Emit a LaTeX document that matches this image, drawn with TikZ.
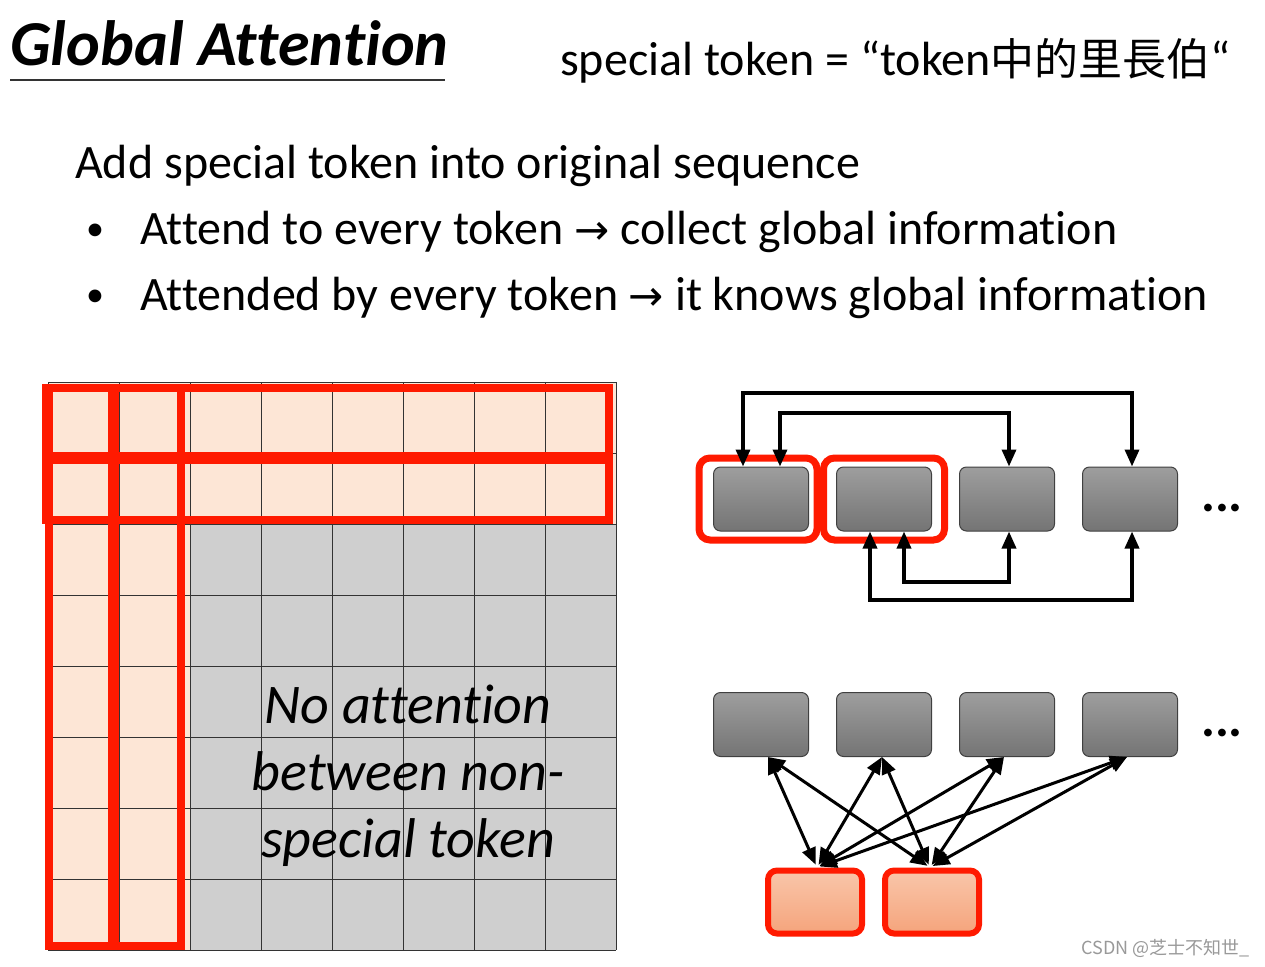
\documentclass[tikz,border=0pt]{standalone}
\usepackage{fontspec}
\setmainfont{Carlito}[Ligatures=NoCommon]
\newfontfamily\cjkfont{Noto Sans CJK TC}
\newfontfamily\wmfont{Noto Sans CJK SC}
\newfontfamily\arrowfont{DejaVu Sans}
\newcommand{\toarrow}{{\arrowfont\fontsize{42}{48}\selectfont →}}
\usetikzlibrary{positioning,arrows.meta,calc}
\definecolor{hlRed}{HTML}{FF1A00}
\definecolor{cellPink}{HTML}{FDE6D6}
\definecolor{cellGray}{HTML}{CFCFCF}
\definecolor{tokTop}{HTML}{9E9E9E}
\definecolor{tokBot}{HTML}{747474}
\definecolor{spTop}{HTML}{F9C6AA}
\definecolor{spBot}{HTML}{F5A47C}
\tikzset{
  tokbox/.style={draw=black!75, line width=1pt, rounded corners=7pt,
    minimum width=95pt, minimum height=64pt, top color=tokTop, bottom color=tokBot},
  spbox/.style={draw=hlRed, line width=6pt, rounded corners=9pt,
    minimum width=94pt, minimum height=63pt, top color=spTop, bottom color=spBot},
  hlbox/.style={draw=hlRed, line width=7pt, rounded corners=11pt,
    minimum height=82pt},
  hlline/.style={draw=hlRed, line width=8.5pt},
  gridline/.style={draw=black!80, line width=1pt},
  link/.style={line width=3.5pt, {Triangle[length=17pt,width=14pt]}-{Triangle[length=17pt,width=14pt]}},
  body/.style={font=\fontsize{48}{56}\selectfont, inner sep=0pt, anchor=base west},
}
\begin{document}
\begin{tikzpicture}[x=1pt, y=-1pt]
  \useasboundingbox[fill=white] (0,0) rectangle (1265,966);

  % Titel
  \node[font=\fontsize{64}{70}\bfseries\itshape\selectfont, inner sep=0pt, anchor=base west] (title) at (10,65) {Global Attention};
  \draw[line width=1.5pt, black!80] (10,80) -- (445,80);
  \node[body] (spdef) at (560,75) {special token = “token{\cjkfont\fontsize{44}{50}\selectfont 中的里長伯}“};

  % Text
  \node[body] (intro) at (75,178) {Add special token into original sequence};
  \node[body, font=\fontsize{36}{40}\selectfont] (dotA) at (86,240) {•};
  \node[body] (itemA) at (140,244) {Attend to every token \toarrow{} collect global information};
  \node[body, font=\fontsize{36}{40}\selectfont] (dotB) at (86,306) {•};
  \node[body] (itemB) at (140,310) {Attended by every token \toarrow{} it knows global information};

  % Matrix
  \fill[cellGray] (48,382) rectangle (616,950);
  \fill[cellPink] (48,382) rectangle (190,950);
  \fill[cellPink] (48,382) rectangle (616,524);
  \foreach \i in {0,...,8} {
    \draw[gridline] (48+71*\i,382) -- (48+71*\i,950);
    \draw[gridline] (48,382+71*\i) -- (616,382+71*\i);
  }
  \draw[hlline] (46,388) rectangle (609,456);
  \draw[hlline] (46,460) rectangle (609,520);
  \draw[hlline] (49,388) rectangle (112,946);
  \draw[hlline] (115,388) rectangle (181,946);
  \node[font=\fontsize{56}{67}\itshape\selectfont, align=center] (noattn) at (408,776) {No attention\\between non-\\special token};

  % Tokens oben
  \node[tokbox] (t1) at (761,499) {};
  \node[tokbox, right=27pt of t1] (t2) {};
  \node[tokbox, right=27pt of t2] (t3) {};
  \node[tokbox, right=27pt of t3] (t4) {};
  \node[hlbox, minimum width=118pt] (h1) at ([xshift=-3pt]t1) {};
  \node[hlbox, minimum width=121pt] (h2) at (t2) {};
  \node[font=\fontsize{52}{52}\bfseries\selectfont, inner sep=0pt, anchor=base] (moreA) at (1222,511) {...};

  \coordinate (lvA) at (0,393);
  \coordinate (lvB) at (0,413);
  \coordinate (lvC) at (0,582);
  \coordinate (lvD) at (0,600);
  \draw[link] ([xshift=-18pt]t1.north) -- ([xshift=-18pt]t1.north |- lvA) -| ([xshift=2pt]t4.north);
  \draw[link] ([xshift=19pt]t1.north) -- ([xshift=19pt]t1.north |- lvB) -| ([xshift=2pt]t3.north);
  \draw[link] ([xshift=20pt]t2.south) -- ([xshift=20pt]t2.south |- lvC) -| ([xshift=2pt]t3.south);
  \draw[link] ([xshift=-14pt]t2.south) -- ([xshift=-14pt]t2.south |- lvD) -| ([xshift=2pt]t4.south);

  % Tokens unten
  \node[tokbox] (b1) at (761,724.5) {};
  \node[tokbox, right=27pt of b1] (b2) {};
  \node[tokbox, right=27pt of b2] (b3) {};
  \node[tokbox, right=27pt of b3] (b4) {};
  \node[font=\fontsize{52}{52}\bfseries\selectfont, inner sep=0pt, anchor=base] (moreB) at (1222,736) {...};
  \node[spbox] (s1) at (815,902) {};
  \node[spbox] (s2) at (932,902) {};
  \foreach \t/\dx in {b1/7,b2/-2,b3/-3,b4/-3}
    \foreach \s/\sx in {s1/2,s2/-2}
      \draw[link, line width=3pt, shorten >=3pt] ([xshift=\dx pt]\t.south) -- ([xshift=\sx pt]\s.north);

  \node[font=\wmfont\fontsize{18}{20}\selectfont, text=black!40, inner sep=0pt, anchor=base east] (wmark) at (1250,954) {CSDN @芝士不知世\_};
\end{tikzpicture}
\end{document}
